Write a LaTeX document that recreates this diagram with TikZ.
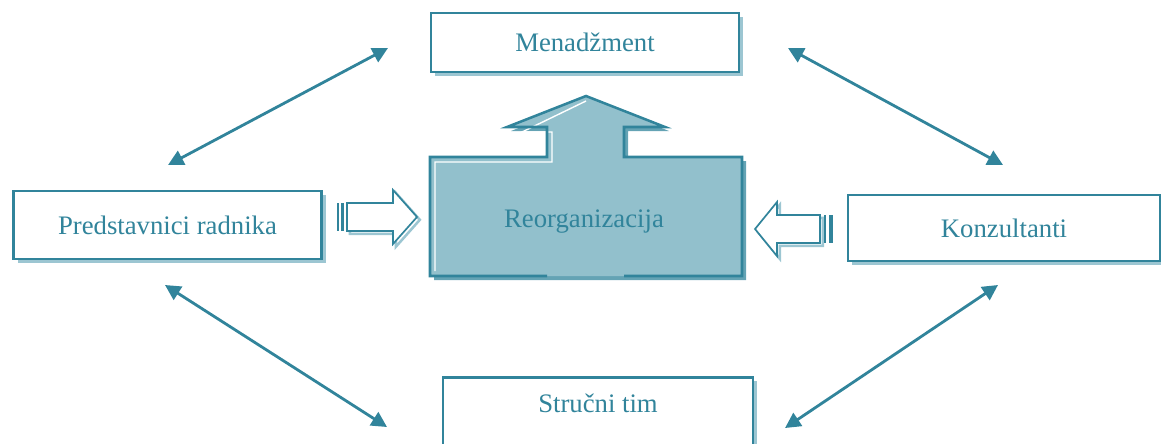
\documentclass[tikz,border=0pt]{standalone}
\usepackage{fontspec}
\setmainfont{Liberation Serif}
\usepackage{tikz}
\usetikzlibrary{arrows.meta,positioning,calc}
\usepackage{xcolor}
\definecolor{tealline}{HTML}{31849B}
\definecolor{tealfill}{HTML}{92C0CC}
\definecolor{tealshadow}{HTML}{9CC6D2}

\tikzset{
    box/.style={draw=tealline, line width=1.8pt, fill=white, text=tealline,
        font=\fontsize{19}{22}\selectfont, minimum width=7.7cm,
        preaction={fill=tealshadow, transform canvas={xshift=3pt, yshift=-3pt}}},
    lbl/.style={text=tealline, font=\fontsize{19}{22}\selectfont},
    link/.style={draw=tealline, line width=2pt, {Triangle[length=11pt,width=11pt]}-{Triangle[length=11pt,width=11pt]}},
    blockarrow/.style={draw=tealline, line width=1.2pt, fill=white, line join=miter,
        preaction={draw=tealshadow, line width=1.8pt, transform canvas={xshift=2pt, yshift=-2pt}}},
    stripe/.style={fill=tealline}
}

\begin{document}
\begin{tikzpicture}[x=0.025cm, y=-0.025cm]
    \useasboundingbox (0,0) rectangle (1161,443);

    % Central block: Reorganizacija with arrow up
    \fill[tealline!75, shift={(4,4)}] (430,157) -- (547,157) -- (547,127) -- (507,127) -- (586,96)
        -- (665,127) -- (624,127) -- (624,157) -- (742,157) -- (742,276) -- (430,276) -- cycle;
    \fill[tealfill] (430,157) -- (547,157) -- (547,127) -- (507,127) -- (586,96)
        -- (665,127) -- (624,127) -- (624,157) -- (742,157) -- (742,276) -- (430,276) -- cycle;
    \draw[white, line width=1pt] (435,271) -- (435,162) -- (552,162) -- (552,132) -- (522,132) -- (586,101);
    \draw[tealline, line width=1.8pt, line join=miter] (547,276) -- (430,276) -- (430,157) -- (547,157)
        -- (547,127) -- (507,127) -- (586,96) -- (665,127) -- (624,127) -- (624,157)
        -- (742,157) -- (742,276) -- (624,276);
    \node[lbl] (reorg) at (584,222) {Reorganizacija};

    % Boxes
    \node[box, minimum height=1.475cm] (menadzment) at (585,42.5) {Menadžment};
    \node[box, minimum height=1.7cm] (radnici) at (167.5,225) {Predstavnici radnika};
    \node[box, minimum height=1.65cm, minimum width=7.8cm] (konzultanti) at (1004,228) {Konzultanti};
    \node[box, anchor=north, minimum height=2.4cm, minimum width=7.75cm] (tim) at (598,376) {};
    \node[lbl] (timtext) at (598,403) {Stručni tim};

    % Striped block arrows towards the centre
    \draw[blockarrow] (347,203) -- (393,203) -- (393,190) -- (417,217) -- (393,244)
        -- (393,231) -- (347,231) -- cycle;
    \foreach \x/\w in {337/2,341/3} {
        \fill[stripe] (\x,203) rectangle (\x+\w,231);
    }
    \draw[blockarrow] (820,215) -- (777,215) -- (777,202) -- (755,229) -- (777,256)
        -- (777,243) -- (820,243) -- cycle;
    \foreach \x/\w in {824/2,829/4} {
        \fill[stripe] (\x,215) rectangle (\x+\w,243);
    }

    % Ends of the double arrows
    \coordinate (mL) at (388,48);
    \coordinate (mR) at (788,48);
    \coordinate (rU) at (168,165);
    \coordinate (rD) at (165,285);
    \coordinate (kU) at (1003,165);
    \coordinate (kD) at (998,285);
    \coordinate (tL) at (387,427);
    \coordinate (tR) at (785,428);

    % Double arrows
    \draw[link] (rU) -- (mL);
    \draw[link] (mR) -- (kU);
    \draw[link] (rD) -- (tL);
    \draw[link] (kD) -- (tR);
\end{tikzpicture}
\end{document}
